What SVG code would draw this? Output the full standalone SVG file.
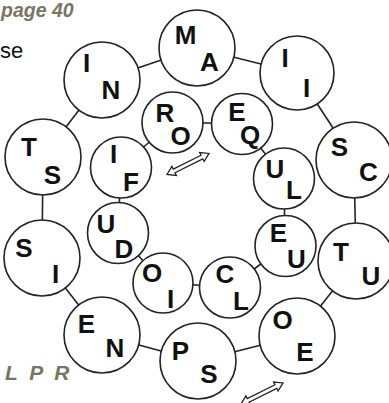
<svg xmlns="http://www.w3.org/2000/svg" width="389" height="403" viewBox="0 0 389 403">
<defs>
<style>
.bg{fill:#ffffff}
.c{fill:#ffffff;stroke:#222222;stroke-width:1.6}
.l{font-family:"Liberation Sans",Arial,sans-serif;font-weight:bold;font-size:26px;fill:#111111;text-anchor:middle}
.ln{stroke:#222222;stroke-width:1.6;fill:none}
.ol{font-family:"Liberation Sans",Arial,sans-serif;font-weight:bold;font-style:italic;fill:#7a7560}
.arr{fill:#ffffff;stroke:#222222;stroke-width:1.3;stroke-linejoin:miter}
</style>
<polygon id="dbl" points="0,0 8,-5 8,-2 39,-2 39,-5 47,0 39,5 39,2 8,2 8,5"/>
</defs>
<rect class="bg" x="0" y="0" width="389" height="403"/>
<text class="ol" x="1" y="17" font-size="19.5">page 40</text>
<text x="0" y="58" font-family="'Liberation Sans',Arial,sans-serif" font-size="22" fill="#111111">se</text>
<text class="ol" x="5" y="380" font-size="21" letter-spacing="3">L P R</text>
<g id="connectors">
<line class="ln" x1="197" y1="48" x2="297" y2="73"/>
<line class="ln" x1="297" y1="73" x2="354" y2="160"/>
<line class="ln" x1="354" y1="160" x2="356" y2="261"/>
<line class="ln" x1="356" y1="261" x2="297" y2="336"/>
<line class="ln" x1="297" y1="336" x2="198" y2="361"/>
<line class="ln" x1="198" y1="361" x2="102" y2="335"/>
<line class="ln" x1="102" y1="335" x2="42" y2="258"/>
<line class="ln" x1="42" y1="258" x2="43" y2="157"/>
<line class="ln" x1="43" y1="157" x2="102" y2="80"/>
<line class="ln" x1="102" y1="80" x2="197" y2="48"/>
<line class="ln" x1="172" y1="122" x2="242" y2="124"/>
<line class="ln" x1="242" y1="124" x2="284" y2="178"/>
<line class="ln" x1="284" y1="178" x2="285" y2="246"/>
<line class="ln" x1="285" y1="246" x2="230" y2="287"/>
<line class="ln" x1="230" y1="287" x2="163" y2="283"/>
<line class="ln" x1="163" y1="283" x2="118" y2="233"/>
<line class="ln" x1="118" y1="233" x2="121" y2="167"/>
<line class="ln" x1="121" y1="167" x2="172" y2="122"/>
<use href="#dbl" class="arr" transform="translate(167,174.5) rotate(-26.6)"/>
<use href="#dbl" class="arr" transform="translate(241,404) rotate(-26.6)"/>
</g>
<g id="n-MA"><circle class="c" cx="197" cy="48" r="38"/><text class="l" x="185.5" y="44">M</text><text class="l" x="209.5" y="71">A</text></g>
<g id="n-II"><circle class="c" cx="297" cy="73" r="37"/><text class="l" x="285" y="67">I</text><text class="l" x="306.5" y="97">I</text></g>
<g id="n-SC"><circle class="c" cx="354" cy="160" r="38"/><text class="l" x="339.5" y="156">S</text><text class="l" x="368.5" y="181">C</text></g>
<g id="n-TU"><circle class="c" cx="356" cy="261" r="38"/><text class="l" x="341" y="261">T</text><text class="l" x="371" y="285">U</text></g>
<g id="n-OE"><circle class="c" cx="297" cy="336" r="38"/><text class="l" x="282.5" y="329">O</text><text class="l" x="305" y="361">E</text></g>
<g id="n-PS"><circle class="c" cx="198" cy="361" r="38"/><text class="l" x="180.5" y="360">P</text><text class="l" x="209" y="383">S</text></g>
<g id="n-EN"><circle class="c" cx="102" cy="335" r="38"/><text class="l" x="86.5" y="333">E</text><text class="l" x="115" y="357">N</text></g>
<g id="n-SI"><circle class="c" cx="42" cy="258" r="38"/><text class="l" x="24" y="257">S</text><text class="l" x="55.5" y="283">I</text></g>
<g id="n-TS"><circle class="c" cx="43" cy="157" r="38"/><text class="l" x="29" y="156">T</text><text class="l" x="52.5" y="184">S</text></g>
<g id="n-IN"><circle class="c" cx="102" cy="80" r="38"/><text class="l" x="86.5" y="72">I</text><text class="l" x="111" y="99">N</text></g>
<g id="n-RO"><circle class="c" cx="172.5" cy="122.5" r="30.5"/><text class="l" x="165" y="122">R</text><text class="l" x="180.5" y="145">O</text></g>
<g id="n-EQ"><circle class="c" cx="242" cy="124" r="30.5"/><text class="l" x="237" y="121">E</text><text class="l" x="250" y="144">Q</text></g>
<g id="n-UL"><circle class="c" cx="284" cy="178.5" r="30.5"/><text class="l" x="275" y="178">U</text><text class="l" x="294" y="199">L</text></g>
<g id="n-EU"><circle class="c" cx="285.5" cy="246" r="30.5"/><text class="l" x="278.5" y="242">E</text><text class="l" x="296.5" y="268">U</text></g>
<g id="n-CL"><circle class="c" cx="230" cy="287.5" r="30.5"/><text class="l" x="225" y="283">C</text><text class="l" x="241" y="310">L</text></g>
<g id="n-OI"><circle class="c" cx="163" cy="283" r="30"/><text class="l" x="152" y="282">O</text><text class="l" x="170.5" y="308">I</text></g>
<g id="n-UD"><circle class="c" cx="118" cy="233" r="30.5"/><text class="l" x="106" y="233">U</text><text class="l" x="124" y="258">D</text></g>
<g id="n-IF"><circle class="c" cx="121" cy="167.5" r="30.5"/><text class="l" x="113.5" y="163">I</text><text class="l" x="131" y="191">F</text></g>
</svg>
